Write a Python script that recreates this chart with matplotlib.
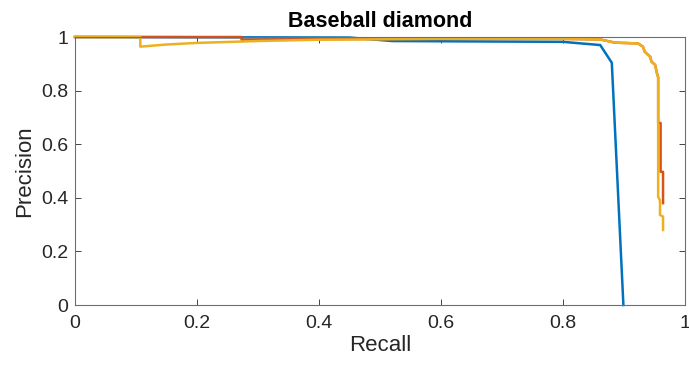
import numpy as np
import matplotlib.pyplot as plt

plt.rcParams['font.family'] = ['Liberation Sans', 'DejaVu Sans']

# PR curves
blue_recall = [0.0, 0.45, 0.52, 0.70, 0.80, 0.83, 0.861, 0.880, 0.899]
blue_prec = [1.0, 0.998, 0.985, 0.983, 0.982, 0.976, 0.970, 0.904, 0.0]

red_recall = [0.0, 0.273, 0.273, 0.40, 0.60, 0.80, 0.861, 0.885, 0.923, 0.931,
              0.934, 0.943, 0.945, 0.951, 0.954, 0.956, 0.956, 0.960, 0.960,
              0.964, 0.964]
red_prec = [1.0, 1.0, 0.99, 0.992, 0.993, 0.993, 0.991, 0.979, 0.976, 0.964,
            0.945, 0.926, 0.908, 0.896, 0.865, 0.850, 0.68, 0.679, 0.497,
            0.497, 0.38]

yel_recall = [0.0, 0.107, 0.107, 0.15, 0.20, 0.30, 0.40, 0.60, 0.80, 0.861,
              0.885, 0.923, 0.931, 0.934, 0.943, 0.945, 0.951, 0.954, 0.956,
              0.956, 0.959, 0.959, 0.964, 0.964]
yel_prec = [1.0, 1.0, 0.964, 0.972, 0.978, 0.985, 0.990, 0.993, 0.993, 0.991,
            0.979, 0.976, 0.964, 0.945, 0.926, 0.908, 0.896, 0.865, 0.850,
            0.404, 0.39, 0.336, 0.33, 0.28]

fig = plt.figure(figsize=(6.89, 3.69), dpi=100)
ax = fig.add_axes([0.1089, 0.1734, 0.8853, 0.7263])

ax.plot(blue_recall, blue_prec, color='#0072BD', lw=1.8, clip_on=False)
ax.plot(red_recall, red_prec, color='#D95319', lw=1.8, clip_on=False)
ax.plot(yel_recall, yel_prec, color='#EDB120', lw=1.8, clip_on=False)

ax.set_xlim(0, 1)
ax.set_ylim(0, 1)
ax.set_xticks([0, 0.2, 0.4, 0.6, 0.8, 1])
ax.set_xticklabels(['0', '0.2', '0.4', '0.6', '0.8', '1'])
ax.set_yticks([0, 0.2, 0.4, 0.6, 0.8, 1])
ax.set_yticklabels(['0', '0.2', '0.4', '0.6', '0.8', '1'])
ax.tick_params(direction='in', length=4, width=0.6, labelsize=14,
               colors='#262626', top=True, right=True)
ax.tick_params(axis='x', pad=7)
ax.tick_params(axis='y', pad=5)
for s in ax.spines.values():
    s.set_color('#6e6e6e')
    s.set_linewidth(0.8)

ax.set_xlabel('Recall', fontsize=16, color='#262626', labelpad=2)
ax.set_ylabel('Precision', fontsize=16, color='#262626', labelpad=4)
ax.set_title('Baseball diamond', fontsize=15.5, fontweight='bold', pad=7)

fig.savefig('out.png', dpi=100)
